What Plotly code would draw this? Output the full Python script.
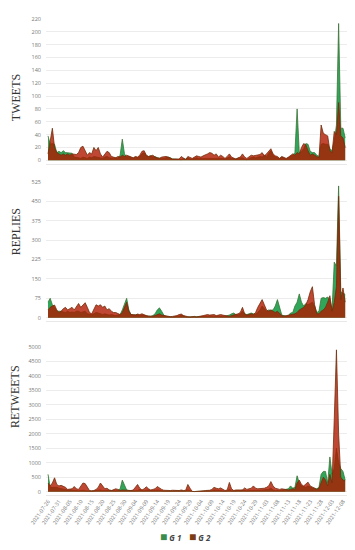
import pandas as pd
import plotly.graph_objects as go
from plotly.subplots import make_subplots

# one value per day, 2021-07-26 .. 2021-12-09
dates = pd.date_range("2021-07-26", "2021-12-09", freq="D")

tweets_g1 = [38, 25, 26, 25, 12, 14, 12, 15, 12, 12,
             12, 11, 5, 5, 4, 3, 5, 4, 3, 5,
             4, 6, 5, 4, 3, 3, 5, 6, 4, 3,
             3, 4, 3, 8, 33, 10, 5, 6, 4, 3,
             5, 4, 6, 10, 12, 7, 6, 7, 5, 6,
             4, 3, 3, 3, 4, 5, 4, 2, 2, 2,
             1, 1, 3, 2, 4, 2, 2, 3, 4, 3,
             3, 4, 4, 3, 3, 3, 4, 3, 3, 4,
             3, 2, 3, 5, 3, 2, 2, 3, 3, 4,
             2, 1, 3, 4, 5, 4, 5, 6, 5, 8,
             6, 10, 15, 8, 5, 4, 3, 5, 3, 2,
             4, 6, 8, 12, 80, 12, 14, 18, 26, 25,
             14, 12, 12, 8, 6, 25, 26, 25, 25, 18,
             15, 30, 55, 213, 50, 50, 35]
tweets_g2 = [10, 30, 50, 20, 12, 10, 8, 10, 8, 10,
             8, 10, 10, 9, 12, 20, 22, 15, 8, 12,
             10, 20, 15, 20, 10, 5, 10, 14, 12, 6,
             5, 4, 6, 5, 8, 6, 8, 7, 5, 4,
             6, 5, 8, 14, 15, 8, 6, 7, 8, 5,
             4, 3, 5, 6, 6, 5, 3, 2, 2, 2,
             2, 6, 3, 1, 6, 4, 3, 5, 7, 6,
             5, 7, 8, 10, 12, 11, 8, 10, 5, 8,
             6, 3, 6, 10, 5, 3, 2, 4, 5, 10,
             5, 3, 6, 8, 7, 8, 8, 9, 12, 7,
             10, 14, 18, 10, 7, 6, 3, 6, 4, 3,
             5, 8, 10, 8, 12, 10, 20, 26, 24, 15,
             8, 10, 8, 6, 4, 55, 42, 40, 38, 15,
             12, 45, 40, 90, 38, 35, 20]

replies_g1 = [60, 75, 50, 40, 25, 25, 25, 22, 20, 25,
              20, 22, 20, 25, 25, 20, 22, 25, 15, 12,
              12, 15, 20, 18, 15, 12, 15, 12, 10, 12,
              10, 8, 10, 12, 30, 55, 75, 30, 12, 10,
              10, 12, 8, 10, 8, 6, 5, 5, 8, 15,
              30, 38, 25, 10, 5, 4, 3, 3, 4, 4,
              6, 10, 6, 4, 3, 3, 4, 5, 4, 3,
              3, 4, 3, 5, 6, 5, 4, 5, 6, 5,
              4, 6, 8, 10, 15, 18, 12, 10, 15, 25,
              15, 12, 15, 18, 15, 14, 20, 30, 45, 35,
              25, 30, 28, 30, 45, 70, 35, 10, 8, 6,
              8, 18, 20, 45, 60, 92, 60, 45, 55, 50,
              55, 60, 45, 20, 25, 75, 78, 75, 80, 70,
              30, 215, 200, 510, 100, 95, 90]
replies_g2 = [30, 40, 45, 49, 30, 20, 25, 35, 40, 30,
              35, 40, 30, 45, 55, 40, 50, 58, 40, 20,
              15, 30, 50, 45, 50, 40, 45, 30, 35, 25,
              20, 20, 15, 12, 20, 40, 60, 25, 12, 12,
              10, 14, 12, 15, 10, 8, 6, 5, 6, 8,
              12, 15, 10, 8, 6, 5, 4, 5, 6, 8,
              12, 14, 8, 5, 4, 3, 4, 5, 3, 4,
              5, 8, 10, 12, 10, 10, 12, 8, 10, 12,
              10, 8, 6, 5, 8, 10, 12, 15, 20, 40,
              15, 10, 12, 15, 12, 20, 40, 55, 70, 50,
              30, 25, 30, 25, 20, 25, 15, 8, 6, 8,
              8, 10, 12, 15, 20, 30, 35, 40, 50, 70,
              100, 120, 50, 15, 15, 25, 30, 40, 60, 85,
              25, 60, 120, 470, 70, 115, 60]

retweets_g1 = [600, 150, 150, 150, 150, 120, 100, 80, 60, 60,
               60, 50, 40, 30, 30, 40, 50, 30, 20, 20,
               20, 30, 40, 50, 60, 40, 30, 40, 50, 40,
               30, 30, 40, 100, 400, 200, 60, 40, 30, 30,
               30, 40, 80, 40, 30, 50, 60, 40, 30, 40,
               60, 40, 30, 20, 20, 20, 30, 40, 30, 20,
               20, 30, 20, 30, 60, 30, 10, 5, 5, 5,
               10, 20, 20, 20, 30, 30, 60, 50, 30, 30,
               20, 20, 30, 80, 30, 20, 30, 40, 30, 60,
               40, 30, 40, 50, 60, 50, 40, 50, 40, 50,
               60, 80, 120, 60, 40, 30, 40, 50, 60, 80,
               100, 200, 120, 150, 550, 300, 200, 180, 150, 200,
               150, 130, 120, 100, 150, 600, 700, 700, 300, 1200,
               600, 800, 1500, 1000, 800, 700, 400]
retweets_g2 = [300, 200, 300, 480, 250, 200, 220, 180, 150, 80,
               90, 100, 180, 100, 80, 200, 300, 280, 150, 40,
               30, 40, 80, 150, 300, 180, 100, 120, 60, 40,
               60, 100, 80, 40, 60, 50, 40, 30, 40, 60,
               150, 250, 120, 60, 100, 170, 100, 60, 80, 100,
               180, 120, 80, 50, 40, 30, 40, 50, 40, 30,
               40, 60, 40, 50, 250, 120, 10, 5, 5, 10,
               20, 30, 40, 40, 50, 80, 150, 120, 100, 130,
               80, 40, 60, 320, 100, 40, 60, 60, 50, 60,
               130, 80, 100, 120, 200, 120, 100, 110, 100, 120,
               150, 200, 350, 200, 120, 100, 80, 100, 80, 60,
               60, 80, 100, 80, 300, 400, 250, 200, 250, 330,
               200, 150, 100, 80, 120, 300, 500, 400, 200, 600,
               300, 2500, 4900, 2000, 500, 400, 380]

panel_titles = ["TWEETS", "REPLIES", "RETWEETS"]
y_ticks = [list(range(0, 221, 20)), list(range(0, 526, 75)), list(range(0, 5001, 500))]
y_ranges = [[-6, 220], [-12, 526], [-114, 5000]]

g1_fill, g1_line, g1_key = "rgba(10,150,60,0.85)", "rgb(60,115,55)", "#3a8c4e"
g2_fill, g2_line, g2_key = "rgba(175,25,0,0.8)", "rgb(115,45,10)", "#7a3c10"

fig = make_subplots(rows=3, cols=1, shared_xaxes=True)

series = [(tweets_g1, tweets_g2), (replies_g1, replies_g2), (retweets_g1, retweets_g2)]
for i, (g1, g2) in enumerate(series, start=1):
    fig.add_trace(go.Scatter(x=dates, y=g1, name="G 1", mode="lines", fill="tozeroy",
                             fillcolor=g1_fill, line=dict(color=g1_line, width=0.8),
                             showlegend=False), row=i, col=1)
    fig.add_trace(go.Scatter(x=dates, y=g2, name="G 2", mode="lines", fill="tozeroy",
                             fillcolor=g2_fill, line=dict(color=g2_line, width=0.8),
                             showlegend=False), row=i, col=1)

domains = [[0.695, 1.0], [0.366, 0.658], [0.0, 0.311]]
title_y = [0.835, 0.553, 0.207]
for i in range(3):
    fig.update_yaxes(domain=domains[i], range=y_ranges[i], tickvals=y_ticks[i],
                     showgrid=True, gridcolor="#ececec", gridwidth=1, zeroline=False,
                     tickfont=dict(size=5.5, color="#777"), ticklabelstandoff=4,
                     row=i + 1, col=1)
    fig.add_annotation(text=panel_titles[i], xref="paper", yref="paper",
                       x=-0.101, y=title_y[i], textangle=-90, showarrow=False,
                       xanchor="center", yanchor="middle",
                       font=dict(family="Liberation Serif", size=12, color="#333"))

fig.update_xaxes(range=["2021-07-25 02:00", "2021-12-09 20:00"], showgrid=False,
                 showline=True, linecolor="#e8e8e8", zeroline=False,
                 tick0="2021-07-26", dtick=5 * 86400000, tickformat="%Y-%m-%d",
                 tickangle=-55, tickfont=dict(size=5.5, color="#777"))
fig.update_xaxes(showticklabels=False, row=1, col=1)
fig.update_xaxes(showticklabels=False, row=2, col=1)

# compact legend below the bottom panel
for name, key, xpos in [("G 1", g1_key, 0.415), ("G 2", g2_key, 0.51)]:
    fig.add_annotation(text=f"<span style='color:{key};font-size:12px'>■</span> <b><i>{name}</i></b>",
                       xref="paper", yref="paper", x=xpos, y=-0.088,
                       xanchor="center", yanchor="middle", showarrow=False,
                       font=dict(size=8, color="#444", family="Open Sans"))

fig.update_layout(
    width=355, height=550,
    margin=dict(l=46, r=8, t=19, b=55),
    paper_bgcolor="white", plot_bgcolor="white",
    font=dict(family="Open Sans"),
    showlegend=False,
)

# drop the browser's default body margin so the figure sits at the page origin
fig.write_html("out.html", config={"displayModeBar": False},
               post_script="document.body.style.margin='0';")
